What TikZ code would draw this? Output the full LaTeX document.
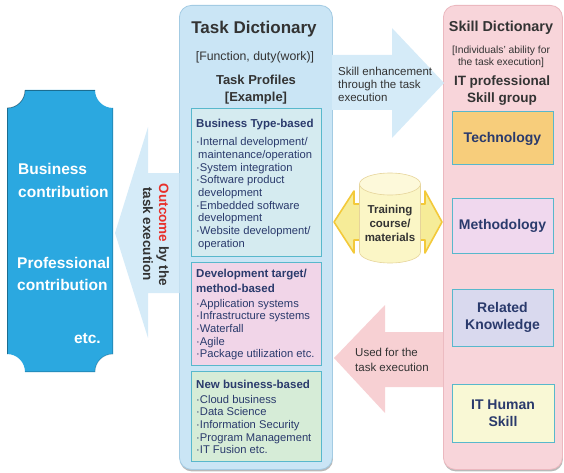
\documentclass[tikz,border=0pt]{standalone}
\usepackage{fontspec}
\setmainfont{Liberation Sans}
\usetikzlibrary{shadows}
\definecolor{leftblue}{HTML}{2BA8E0}
\definecolor{taskbg}{HTML}{CAE5F5}
\definecolor{taskbd}{HTML}{A3CBE3}
\definecolor{skillbg}{HTML}{F8D5DA}
\definecolor{skillbd}{HTML}{EBB8BF}
\definecolor{teal}{HTML}{58B8CC}
\definecolor{bizbg}{HTML}{D5EBF0}
\definecolor{devbg}{HTML}{F1D5E8}
\definecolor{newbg}{HTML}{D6ECD7}
\definecolor{techbg}{HTML}{F7CD7B}
\definecolor{methbg}{HTML}{F0D8EE}
\definecolor{relbg}{HTML}{D9D9EE}
\definecolor{humanbg}{HTML}{F9F8D5}
\definecolor{navy}{HTML}{2A3A6C}
\definecolor{darktxt}{HTML}{333333}
\definecolor{arrblue}{HTML}{D5EBF8}
\definecolor{arrpink}{HTML}{F7D0D3}
\definecolor{arryel}{HTML}{F6EC98}
\definecolor{arryelbd}{HTML}{F3C93A}
\definecolor{cylbg}{HTML}{FBF6C6}
\definecolor{cyltop}{HTML}{FDF9DA}
\definecolor{cylbd}{HTML}{E6D49A}
\definecolor{outred}{HTML}{E8302A}
\begin{document}
\begin{tikzpicture}[x=1pt,y=-1pt,
  panel/.style={rounded corners=12pt, line width=0.8pt, anchor=north west, inner sep=0pt,
    drop shadow={shadow xshift=0.5pt, shadow yshift=-2pt, opacity=0.55}},
  tbox/.style={draw=teal, line width=1pt, anchor=north west, inner sep=0pt},
  sbox/.style={draw=teal, line width=1pt, inner sep=0pt, text=navy, align=center,
    font=\bfseries\fontsize{14}{16.5}\selectfont},
  txt/.style={inner sep=0pt, anchor=base},
  ttl/.style={txt, text=navy, anchor=base west, font=\bfseries\fontsize{11.5}{13}\selectfont},
  item/.style={txt, text=navy, anchor=base west, font=\fontsize{11.2}{13}\selectfont},
  white/.style={txt, text=white, anchor=base west, font=\bfseries\fontsize{15.5}{18}\selectfont},
  note/.style={txt, text=darktxt, anchor=base west, font=\fontsize{11.5}{13}\selectfont}]
\useasboundingbox (0,0) rectangle (564,473);

% panels
\node[panel, fill=taskbg, draw=taskbd, minimum width=153pt, minimum height=464pt] (task) at (179,5) {};
\node[panel, fill=skillbg, draw=skillbd, minimum width=119pt, minimum height=464pt] (skill) at (443,5) {};

% left box with concave corners
\fill[leftblue] (25,90) -- (95,90) .. controls (95,100) and (103,108) .. (113,108)
  -- (113,354) .. controls (103,354) and (95,362) .. (95,372)
  -- (25,372) .. controls (25,362) and (17,354) .. (7,354)
  -- (7,108) .. controls (17,108) and (25,100) .. (25,90) -- cycle;
\draw[white, opacity=0.35, line width=0.8pt] (7.5,354) -- (7.5,108) .. controls (17,108) and (25,100) .. (25,90.5) -- (95,90.5);
\draw[black, opacity=0.15, line width=1pt] (112.5,108) -- (112.5,354) .. controls (103,354) and (95,362) .. (95,371.5) -- (25,371.5);

% big arrows
\fill[arrblue] (115,233) -- (148,127) -- (148,173) -- (179.5,173) -- (179.5,293) -- (148,293) -- (148,338) -- cycle;
\fill[arrblue] (332,55) -- (392,55) -- (392,28) -- (444,83) -- (392,138) -- (392,110) -- (332,110) -- cycle;
\fill[arrpink] (334,358) -- (385,305) -- (385,332) -- (443,332) -- (443,387) -- (385,387) -- (385,413) -- cycle;
\draw[fill=arryel, draw=arryelbd, line width=1.6pt, line join=round]
  (334,222) -- (354,191) -- (354,204) -- (425,204) -- (425,191) -- (442,222)
  -- (425,253) -- (425,240) -- (354,240) -- (354,253) -- cycle;

% cylinder
\fill[cylbg] (359.5,184) -- (359.5,252) .. controls (359.5,258.1) and (373.2,263) .. (390,263)
  .. controls (406.8,263) and (420.5,258.1) .. (420.5,252) -- (420.5,184) -- cycle;
\draw[cylbd, line width=0.6pt] (359.5,184) -- (359.5,252) .. controls (359.5,258.1) and (373.2,263) .. (390,263)
  .. controls (406.8,263) and (420.5,258.1) .. (420.5,252) -- (420.5,184);
\draw[cylbd, fill=cyltop, line width=0.6pt] (390,184) ellipse [x radius=30.5pt, y radius=11pt];

% task dictionary texts
\node[txt, text=darktxt, font=\bfseries\fontsize{17}{20}\selectfont] (tdt) at (254,34) {Task Dictionary};
\node[txt, text=darktxt, font=\fontsize{12.3}{14}\selectfont] (tdf) at (255,61) {[Function, duty(work)]};
\node[txt, text=darktxt, font=\bfseries\fontsize{13}{15}\selectfont] (tdp) at (256,85) {Task Profiles};
\node[txt, text=darktxt, font=\bfseries\fontsize{13}{15}\selectfont] (tde) at (256,102) {[Example]};

% task boxes
\node[tbox, fill=bizbg, minimum width=130pt, minimum height=148pt] (biz) at (191,108) {};
\node[tbox, fill=devbg, minimum width=130pt, minimum height=103pt] (dev) at (191,262) {};
\node[tbox, fill=newbg, minimum width=130pt, minimum height=90pt] (new) at (191,371) {};

\node[ttl] (bizt) at (196,128) {Business Type-based};
\foreach \t [count=\i from 0] in {·Internal development/, \hspace{2pt}maintenance/operation, ·System integration, ·Software product, \hspace{2pt}development, ·Embedded software, \hspace{2pt}development, ·Website development/, \hspace{2pt}operation}
  \node[item] (bizi\i) at (196,146+12.65*\i) {\t};

\node[ttl] (devt1) at (196,277) {Development target/};
\node[ttl] (devt2) at (196,292) {method-based};
\foreach \t [count=\i from 0] in {·Application systems, ·Infrastructure systems, ·Waterfall, ·Agile, ·Package utilization etc.}
  \node[item] (devi\i) at (196,307+12.7*\i) {\t};

\node[ttl] (newt) at (196,388) {New business-based};
\foreach \t [count=\i from 0] in {·Cloud business, ·Data Science, ·Information Security, ·Program Management, ·IT Fusion etc.}
  \node[item] (newi\i) at (196,403+12.7*\i) {\t};

% skill dictionary texts
\node[txt, text=darktxt, font=\bfseries\fontsize{14.4}{17}\selectfont] (sdt) at (501,32) {Skill Dictionary};
\node[txt, text=darktxt, font=\fontsize{10.3}{12}\selectfont] (sdi1) at (501,53.5) {[Individuals' ability for};
\node[txt, text=darktxt, font=\fontsize{10.3}{12}\selectfont] (sdi2) at (501,65.5) {the task execution]};
\node[txt, text=darktxt, font=\bfseries\fontsize{13.5}{15}\selectfont] (sdg1) at (502,86) {IT professional};
\node[txt, text=darktxt, font=\bfseries\fontsize{13.5}{15}\selectfont] (sdg2) at (502,103) {Skill group};

\node[sbox, fill=techbg, minimum width=101pt, minimum height=53pt] (tech) at (502.5,138.5) {Technology};
\node[sbox, fill=methbg, minimum width=101pt, minimum height=55pt] (meth) at (502.5,225.5) {Methodology};
\node[sbox, fill=relbg, minimum width=101pt, minimum height=57pt] (rel) at (502.5,317.5) {Related\\Knowledge};
\node[sbox, fill=humanbg, minimum width=102pt, minimum height=58pt] (human) at (503,413) {IT Human\\Skill};

% left box texts
\node[white] (lb1) at (18,175) {Business};
\node[white] (lb2) at (18,197) {contribution};
\node[white] (lb3) at (17,268) {Professional};
\node[white] (lb4) at (17,290) {contribution};
\node[white, anchor=base east] (lb5) at (101,343) {etc.};

% arrow texts
\node[txt, rotate=-90, text=darktxt, font=\bfseries\fontsize{13.5}{15}\selectfont] (out1) at (159,235) {\textcolor{outred}{Outcome} by the};
\node[txt, rotate=-90, text=darktxt, font=\bfseries\fontsize{13.5}{15}\selectfont] (out2) at (143,234) {task execution};

\node[note] (se1) at (338,76) {Skill enhancement};
\node[note] (se2) at (338,89) {through the task};
\node[note] (se3) at (338,102) {execution};

\node[note] (uf1) at (355,356) {Used for the};
\node[note] (uf2) at (355,371) {task execution};

\node[txt, text=darktxt, font=\bfseries\fontsize{11.5}{13}\selectfont] (tr1) at (390,213) {Training};
\node[txt, text=darktxt, font=\bfseries\fontsize{11.5}{13}\selectfont] (tr2) at (390,227) {course/};
\node[txt, text=darktxt, font=\bfseries\fontsize{11.5}{13}\selectfont] (tr3) at (390,241) {materials};
\end{tikzpicture}
\end{document}
